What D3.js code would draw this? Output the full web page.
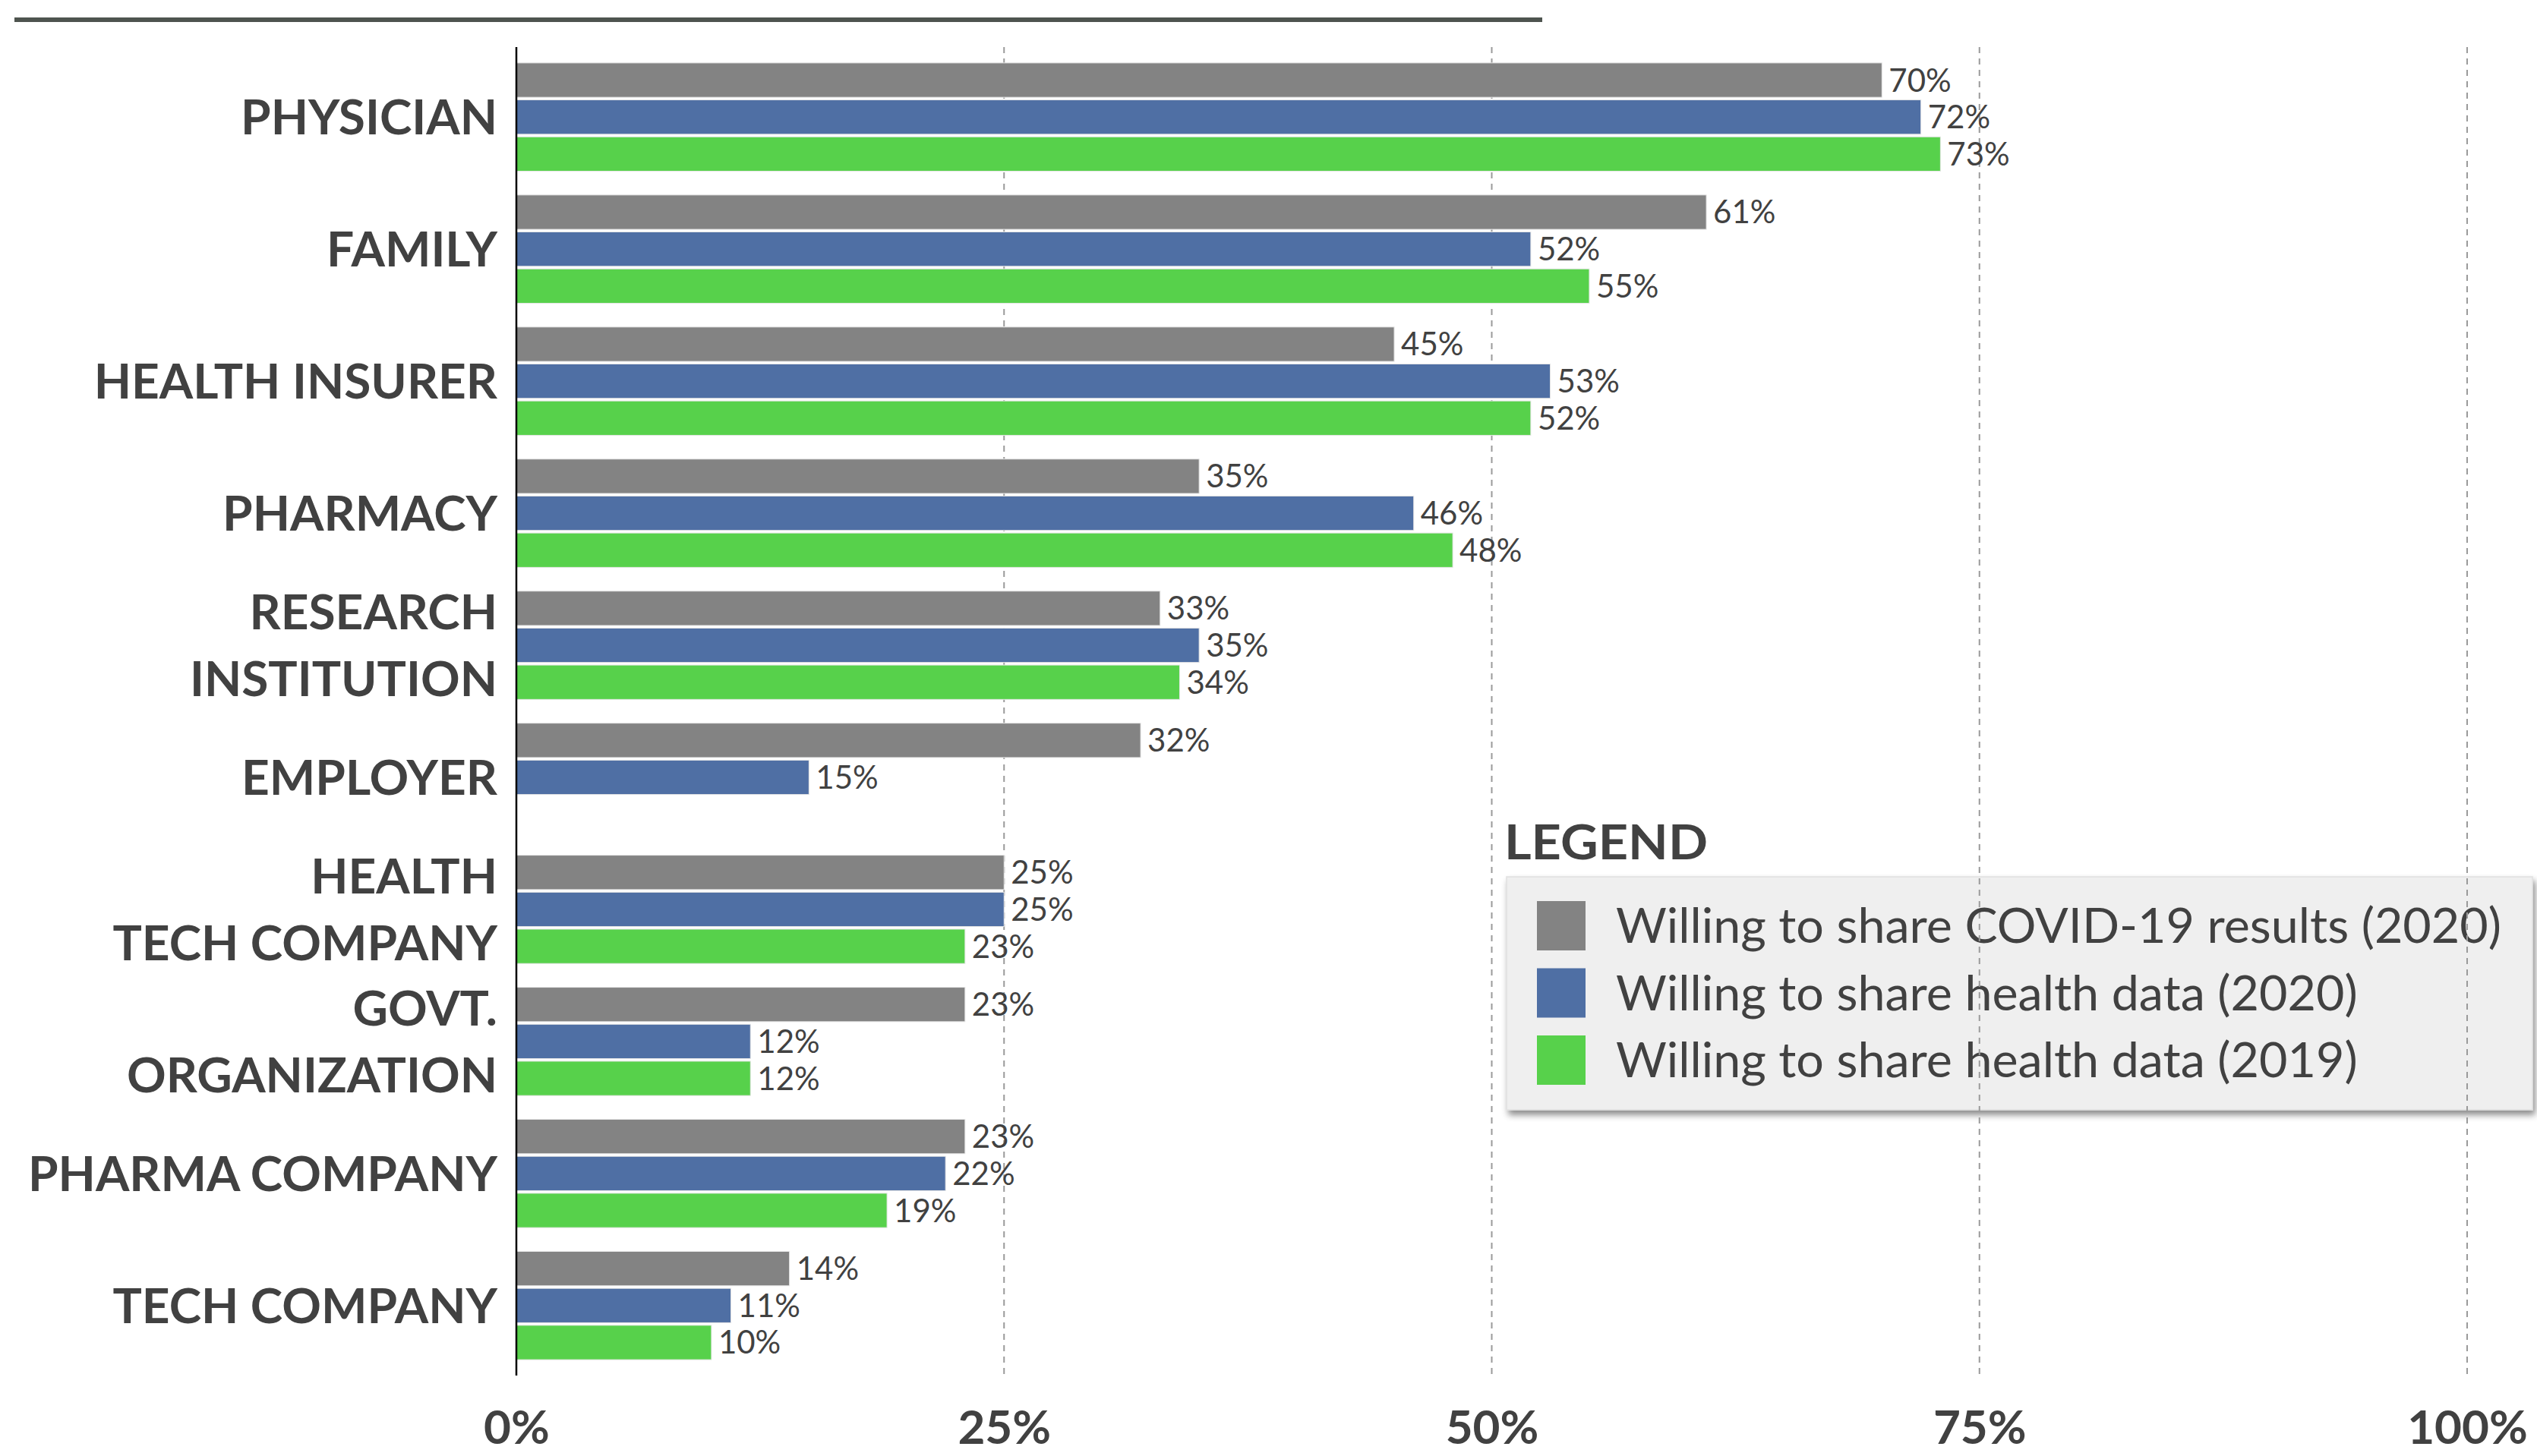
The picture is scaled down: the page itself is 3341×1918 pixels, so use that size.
<!DOCTYPE html>
<html>
<head>
<meta charset="utf-8">
<script src="https://cdn.jsdelivr.net/npm/d3@7"></script>
<style>
  html, body { margin: 0; padding: 0; background: #fff; }
  svg { display: block; }
</style>
</head>
<body>
<svg id="chart"></svg>
<script>
// Who people are willing to share health data with
const categories = [
  "PHYSICIAN", "FAMILY", "HEALTH INSURER", "PHARMACY", "RESEARCH\nINSTITUTION",
  "EMPLOYER", "HEALTH\nTECH COMPANY", "GOVT.\nORGANIZATION", "PHARMA COMPANY", "TECH COMPANY"
];
const covidResults2020 = [70, 61, 45, 35, 33, 32, 25, 23, 23, 14];
const healthData2020   = [72, 52, 53, 46, 35, 15, 25, 12, 22, 11];
const healthData2019   = [73, 55, 52, 48, 34, null, 23, 12, 19, 10];
const seriesNames = [
  "Willing to share COVID-19 results (2020)",
  "Willing to share health data (2020)",
  "Willing to share health data (2019)"
];
const seriesColors = ["#838383", "#4f6fa4", "#57d14b"];
const tickValues = [0, 25, 50, 75, 100];
const legendTitle = "LEGEND";

const W = 3341, H = 1918;
const FONT = "Lato, 'Open Sans', sans-serif";
const TEXT = "#414141";

const svg = d3.select("#chart").attr("width", W).attr("height", H)
  .attr("viewBox", `0 0 ${W} ${H}`);
svg.append("rect").attr("width", W).attr("height", H).attr("fill", "#fff");

const x = d3.scaleLinear().domain([0, 100]).range([680, 3249]);
const y = d3.scaleBand().domain(categories).range([62, 1812])
  .paddingInner(0.18).paddingOuter(0.12);
const ySub = d3.scaleBand().domain(d3.range(seriesNames.length))
  .range([0, y.bandwidth()]).paddingInner(0.07);

const series = [covidResults2020, healthData2020, healthData2019];

// header rule
svg.append("line")
  .attr("x1", 19).attr("x2", 2031).attr("y1", 26).attr("y2", 26)
  .attr("stroke", "#4e544f").attr("stroke-width", 6);

// legend (sits beneath the gridlines)
const defs = svg.append("defs");
const f = defs.append("filter").attr("id", "shadow")
  .attr("x", "-5%").attr("y", "-5%").attr("width", "115%").attr("height", "125%");
f.append("feDropShadow").attr("dx", 3).attr("dy", 6).attr("stdDeviation", 4)
  .attr("flood-color", "#000").attr("flood-opacity", 0.45);

const legend = svg.append("g").attr("class", "legend");
legend.append("text")
  .attr("x", 1981).attr("y", 1132)
  .attr("font-family", FONT).attr("font-weight", 700).attr("font-size", 64)
  .attr("textLength", 268).attr("lengthAdjust", "spacingAndGlyphs")
  .attr("fill", TEXT).text(legendTitle);
legend.append("rect")
  .attr("x", 1984).attr("y", 1155).attr("width", 1351).attr("height", 307)
  .attr("fill", "#efefef").attr("stroke", "#e0e0e0").attr("stroke-width", 1.5)
  .attr("filter", "url(#shadow)");
const li = legend.selectAll("g.item").data(seriesNames).join("g")
  .attr("class", "item")
  .attr("transform", (d, i) => `translate(2024, ${1187 + i * 88.5})`);
li.append("rect").attr("width", 64).attr("height", 65)
  .attr("fill", (d, i) => seriesColors[i]);
li.append("text")
  .attr("x", 104).attr("y", 55)
  .attr("font-family", FONT).attr("font-size", 64.6).attr("fill", TEXT)
  .text(d => d);

// vertical gridlines
svg.append("g").selectAll("line").data(tickValues.filter(v => v > 0)).join("line")
  .attr("x1", d => x(d)).attr("x2", d => x(d))
  .attr("y1", 62).attr("y2", 1812)
  .attr("stroke", "#9a9a9a").attr("stroke-width", 2)
  .attr("stroke-dasharray", "8,7");

// bars
const groups = svg.append("g").selectAll("g").data(categories).join("g")
  .attr("transform", d => `translate(0, ${y(d)})`);

const cells = groups.selectAll("g.cell")
  .data((c, ci) => series.map((s, si) => ({ si, v: s[ci] })).filter(d => d.v != null))
  .join("g").attr("class", "cell");

cells.append("rect")
  .attr("x", x(0))
  .attr("y", d => ySub(d.si))
  .attr("width", d => x(d.v) - x(0))
  .attr("height", ySub.bandwidth())
  .attr("fill", d => seriesColors[d.si])
  .attr("stroke", "#e6e6e6").attr("stroke-width", 1);

cells.append("text")
  .attr("x", d => x(d.v) + 9)
  .attr("y", d => ySub(d.si) + ySub.bandwidth() / 2 + 15)
  .attr("font-family", FONT).attr("font-size", 42).attr("fill", TEXT)
  .text(d => d.v + "%");

// category labels
const lineH = 88;
svg.append("g").selectAll("text").data(categories).join("text")
  .attr("text-anchor", "end")
  .attr("font-family", FONT).attr("font-weight", 700).attr("font-size", 64)
  .attr("fill", TEXT)
  .each(function (d) {
    const lines = d.split("\n");
    const cy = y(d) + y.bandwidth() / 2;
    const t = d3.select(this);
    lines.forEach((ln, k) => {
      t.append("tspan")
        .attr("x", 655)
        .attr("y", cy + 23 + (k - (lines.length - 1) / 2) * lineH)
        .text(ln);
    });
  });

// y axis line
svg.append("line")
  .attr("x1", x(0)).attr("x2", x(0)).attr("y1", 62).attr("y2", 1812)
  .attr("stroke", "#000").attr("stroke-width", 2.5);

// x axis tick labels
const xAxis = d3.axisBottom(x).tickValues(tickValues)
  .tickFormat(d => d + "%").tickSize(0).tickPadding(0);
const gx = svg.append("g").attr("transform", "translate(0, 1902)").call(xAxis);
gx.select(".domain").remove();
gx.selectAll("text")
  .attr("dy", 0).attr("y", 0)
  .attr("font-family", FONT).attr("font-weight", 700).attr("font-size", 62)
  .attr("fill", TEXT);
</script>
</body>
</html>
